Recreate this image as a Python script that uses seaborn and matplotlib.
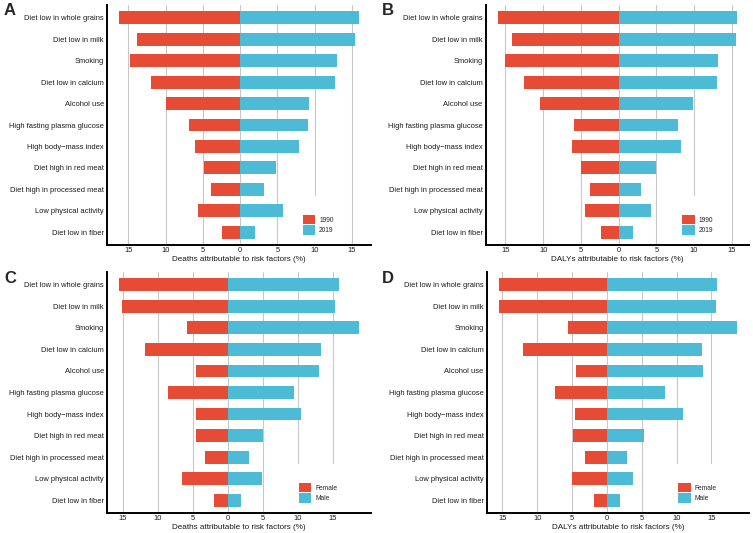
import pandas as pd
import matplotlib
matplotlib.use('Agg')
import matplotlib.pyplot as plt
import seaborn as sns
from matplotlib.patches import Patch, Rectangle

sns.set_style('white')
plt.rcParams['font.family'] = ['Liberation Sans', 'DejaVu Sans']

# risk factors, top to bottom
risks = ['Diet low in whole grains', 'Diet low in milk', 'Smoking',
         'Diet low in calcium', 'Alcohol use', 'High fasting plasma glucose',
         'High body\u2212mass index', 'Diet high in red meat',
         'Diet high in processed meat', 'Low physical activity',
         'Diet low in fiber']

# panel A: deaths, 1990 vs 2019
deaths_1990 = [16.2, 13.8, 14.8, 12.0, 9.9, 6.8, 6.0, 4.9, 3.9, 5.7, 2.4]
deaths_2019 = [15.9, 15.4, 13.0, 12.7, 9.2, 9.1, 7.9, 4.8, 3.2, 5.7, 2.0]
# panel B: DALYs, 1990 vs 2019
dalys_1990 = [16.0, 14.2, 15.0, 12.6, 10.4, 5.9, 6.2, 5.0, 3.8, 4.4, 2.4]
dalys_2019 = [15.7, 15.6, 13.2, 13.0, 9.9, 7.9, 8.3, 5.0, 3.0, 4.3, 1.85]
# panel C: deaths, female vs male
deaths_female = [15.5, 15.1, 5.8, 11.8, 4.5, 8.6, 4.5, 4.6, 3.3, 6.5, 1.95]
deaths_male = [15.95, 15.3, 18.75, 13.3, 13.0, 9.5, 10.5, 5.0, 3.0, 4.9, 1.85]
# panel D: DALYs, female vs male
dalys_female = [15.5, 15.5, 5.6, 12.05, 4.5, 7.4, 4.6, 4.8, 3.1, 4.95, 1.9]
dalys_male = [15.85, 15.7, 18.7, 13.6, 13.8, 8.3, 11.0, 5.3, 2.9, 3.7, 1.85]

tick_vals = [-15, -10, -5, 0, 5, 10, 15]

RED = '#E64B35'
BLUE = '#4DBBD5'

W, H = 753, 533


def px_rect(left, top, right, bottom):
    """像素坐标 -> figure 坐标"""
    return [left / W, 1 - bottom / H, (right - left) / W, (bottom - top) / H]


def plot_panel(ax, left_vals, right_vals, groups, xlabel, leg_x):
    df = pd.DataFrame({
        'risk': risks * 2,
        'value': [-v for v in left_vals] + list(right_vals),
        'group': [groups[0]] * len(risks) + [groups[1]] * len(risks),
    })
    sns.barplot(data=df, y='risk', x='value', hue='group', order=risks,
                hue_order=groups, palette={groups[0]: RED, groups[1]: BLUE},
                dodge=False, width=0.6, errorbar=None, saturation=1,
                linewidth=0, legend=False, ax=ax)

    ax.set_ylim(len(risks) - 1 + 0.6, -0.6)
    ax.set_xticks(tick_vals)
    ax.set_xticklabels([str(abs(t)) for t in tick_vals])
    ax.set_ylabel('')
    ax.set_xlabel(xlabel, fontsize=5.9, labelpad=1.5, color='#1a1a1a')

    ax.grid(axis='x', color='#c8c8c8', linewidth=0.8)
    ax.grid(axis='y', visible=False)
    ax.set_axisbelow(True)

    ax.tick_params(axis='both', length=0, labelsize=5.4, colors='#1a1a1a')
    ax.tick_params(axis='x', pad=1.5)
    ax.tick_params(axis='y', pad=2.5)

    for side in ['top', 'right']:
        ax.spines[side].set_visible(False)
    for side in ['left', 'bottom']:
        ax.spines[side].set_color('black')
        ax.spines[side].set_linewidth(1.4)

    # 白色图例底
    ax.add_artist(Rectangle((leg_x - 0.025, 0), 0.18, 0.205,
                            transform=ax.transAxes, facecolor='white',
                            edgecolor='none', zorder=0.8))
    handles = [Patch(facecolor=RED, edgecolor='none', label=groups[0]),
               Patch(facecolor=BLUE, edgecolor='none', label=groups[1])]
    ax.legend(handles=handles, loc='lower left', bbox_to_anchor=(leg_x, 0.043),
              frameon=False, fontsize=4.8, handlelength=1.85, handleheight=1.87,
              labelspacing=0.08, handletextpad=0.6, borderpad=0, borderaxespad=0)


fig = plt.figure(figsize=(7.53, 5.33), dpi=100)

ax_a = fig.add_axes(px_rect(107.3, 5, 370.7, 245))
ax_b = fig.add_axes(px_rect(486, 5, 749, 245))
ax_c = fig.add_axes(px_rect(107.3, 272, 371, 513))
ax_d = fig.add_axes(px_rect(487, 272, 749, 513))

plot_panel(ax_a, deaths_1990, deaths_2019, ['1990', '2019'],
           'Deaths attributable to risk factors (%)', 0.742)
plot_panel(ax_b, dalys_1990, dalys_2019, ['1990', '2019'],
           'DALYs attributable to risk factors (%)', 0.746)
plot_panel(ax_c, deaths_female, deaths_male, ['Female', 'Male'],
           'Deaths attributable to risk factors (%)', 0.727)
plot_panel(ax_d, dalys_female, dalys_male, ['Female', 'Male'],
           'DALYs attributable to risk factors (%)', 0.730)

for letter, (x, y) in zip('ABCD', [(4, 3), (382, 3), (4, 271), (382, 271)]):
    fig.text(x / W, 1 - y / H, letter, fontsize=12, fontweight='bold',
             ha='left', va='top')

fig.savefig('out.png', dpi=100)
